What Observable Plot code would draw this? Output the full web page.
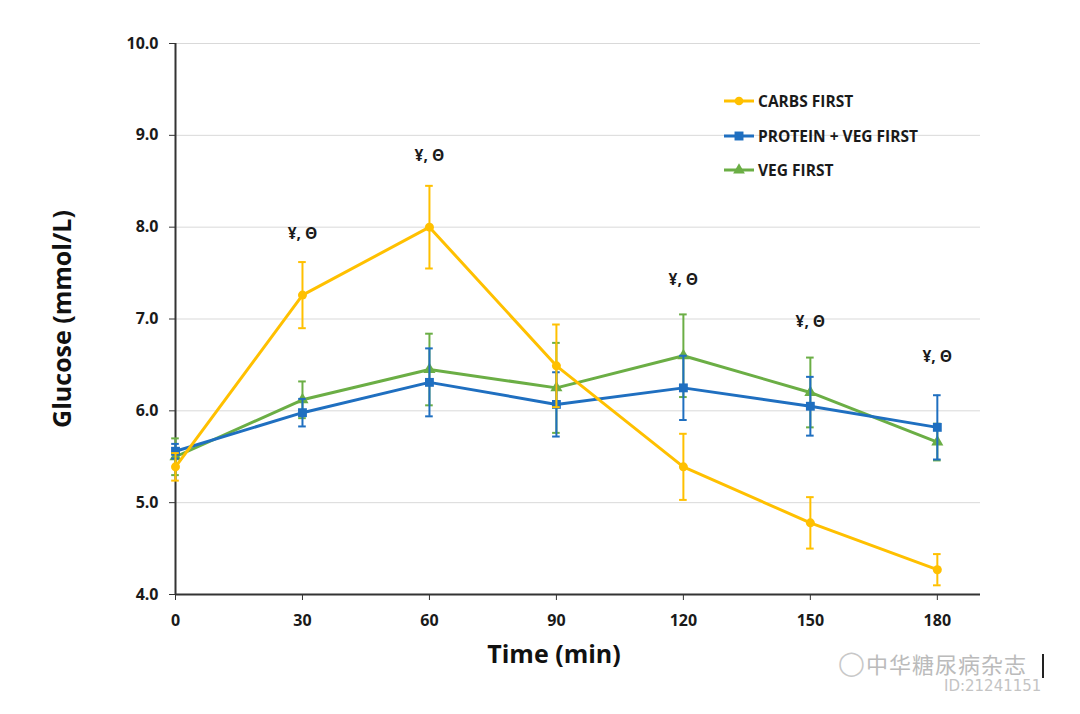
<!DOCTYPE html>
<html><head><meta charset="utf-8">
<script src="https://cdn.jsdelivr.net/npm/d3@7"></script>
<script src="https://cdn.jsdelivr.net/npm/@observablehq/plot@0.6"></script>
<style>
body{margin:0;background:#fff;font-family:"Open Sans",sans-serif;}
#wrap{position:relative;width:1080px;height:714px;}
#legend{position:absolute;left:723px;top:84px;font-weight:700;font-size:15.5px;color:#1a1a1a;}
#legend .row{display:flex;align-items:center;height:34.5px;}
#legend svg{margin-right:3px;}
#wm div{position:absolute;line-height:1;white-space:nowrap;}
</style></head>
<body><div id="wrap"><div id="chart"></div>
<div id="legend"></div>
<div id="wm">
  <div style="left:838px;top:651px;font-size:24px;color:#c8c8c8;font-family:'DejaVu Sans'">&#9711;</div>
  <div style="left:866px;top:652px;font-size:22px;letter-spacing:1px;color:#bbb;font-family:'Noto Sans CJK SC'">中华糖尿病杂志</div>
  <div style="left:1042px;top:654px;width:2px;height:24px;background:#222"></div>
  <div style="left:944px;top:679px;font-size:15px;color:#c4c4c4;font-family:'DejaVu Sans'">ID:21241151</div>
</div>
</div>
<script>
const times = [0, 30, 60, 90, 120, 150, 180];
const seriesNames = ["CARBS FIRST", "PROTEIN + VEG FIRST", "VEG FIRST"];
const carbsMean = [5.39, 7.26, 8.00, 6.49, 5.39, 4.78, 4.27];
const carbsErr  = [0.15, 0.36, 0.45, 0.45, 0.36, 0.28, 0.17];
const protMean  = [5.56, 5.98, 6.31, 6.07, 6.25, 6.05, 5.82];
const protErr   = [0.08, 0.15, 0.37, 0.35, 0.35, 0.32, 0.35];
const vegMean   = [5.50, 6.12, 6.45, 6.25, 6.60, 6.20, 5.66];
const vegErr    = [0.20, 0.20, 0.39, 0.49, 0.45, 0.38, 0.20];
const yTicks = [4, 5, 6, 7, 8, 9, 10];
const xTicks = [0, 30, 60, 90, 120, 150, 180];
const annotTimes = [30, 60, 120, 150, 180];
const annotY = [7.93, 8.77, 7.42, 6.97, 6.59];
const annotText = "¥, Θ";

const colors = {"CARBS FIRST": "#FFC000", "PROTEIN + VEG FIRST": "#1F6FC0", "VEG FIRST": "#6BAE45"};
const symbols = {"CARBS FIRST": "circle", "PROTEIN + VEG FIRST": "square", "VEG FIRST": "triangle"};
const sizes = {"CARBS FIRST": 4.5, "PROTEIN + VEG FIRST": 5, "VEG FIRST": 4.5};

const means = [carbsMean, protMean, vegMean];
const errs = [carbsErr, protErr, vegErr];
const data = [];
seriesNames.forEach((s, i) => times.forEach((t, j) => data.push({s, t, y: means[i][j], e: errs[i][j]})));
const annots = annotTimes.map((t, i) => ({t, y: annotY[i]}));
const drawOrder = ["VEG FIRST", "PROTEIN + VEG FIRST", "CARBS FIRST"];

const marks = [
  Plot.gridY(yTicks, {stroke: "#d9d9d9", strokeOpacity: 1, strokeWidth: 1}),
  Plot.axisY(yTicks, {tickFormat: d => d.toFixed(1), tickSize: 6, tickPadding: 11, fontSize: 16, fill: "#1a1a1a", stroke: "#333", label: null}),
  Plot.axisX(xTicks, {tickSize: 6, tickPadding: 14, fontSize: 16, fill: "#1a1a1a", stroke: "#333", label: null}),
  Plot.ruleY([4], {stroke: "#333", strokeWidth: 2}),
  Plot.ruleX([0], {stroke: "#333", strokeWidth: 2}),
];
for (const s of drawOrder) {
  const d = data.filter(r => r.s === s);
  const c = colors[s];
  marks.push(
    Plot.ruleX(d, {x: "t", y1: r => r.y - r.e, y2: r => r.y + r.e, stroke: c, strokeWidth: 2}),
    Plot.ruleY(d, {y: r => r.y - r.e, x1: r => r.t - 0.9, x2: r => r.t + 0.9, stroke: c, strokeWidth: 2}),
    Plot.ruleY(d, {y: r => r.y + r.e, x1: r => r.t - 0.9, x2: r => r.t + 0.9, stroke: c, strokeWidth: 2}),
    Plot.line(d, {x: "t", y: "y", stroke: c, strokeWidth: 3}),
    Plot.dot(d, {x: "t", y: "y", fill: c, symbol: () => symbols[s], r: sizes[s], stroke: "none"})
  );
}
marks.push(
  Plot.text(annots, {x: "t", y: "y", text: () => annotText, fontSize: 15.5, fontWeight: 700, fill: "#1a1a1a"}),
  Plot.text(["Glucose (mmol/L)"], {frameAnchor: "left", textAnchor: "middle", dx: -113, rotate: -90, fontSize: 25, fontWeight: 700, fill: "#111"}),
  Plot.text(["Time (min)"], {frameAnchor: "bottom", textAnchor: "middle", dx: -24, dy: 68, fontSize: 25, fontWeight: 700, fill: "#111"})
);

const chart = Plot.plot({
  width: 1080, height: 714,
  marginLeft: 175, marginRight: 100, marginTop: 43, marginBottom: 120,
  x: {domain: [0, 190.2]},
  y: {domain: [4, 10]},
  style: {fontFamily: "'Open Sans', sans-serif", fontWeight: 700, background: "#fff"},
  marks
});
document.getElementById("chart").appendChild(chart);

const lg = document.getElementById("legend");
for (const s of seriesNames) {
  const c = colors[s];
  const sym = d3.symbol(s === "CARBS FIRST" ? d3.symbolCircle : s === "VEG FIRST" ? d3.symbolTriangle : d3.symbolSquare, s === "PROTEIN + VEG FIRST" ? 80 : 60)();
  lg.insertAdjacentHTML("beforeend",
    `<div class="row"><svg width="32" height="14"><line x1="1" x2="31" y1="7" y2="7" stroke="${c}" stroke-width="3"/><path d="${sym}" transform="translate(16,7)" fill="${c}"/></svg><span>${s}</span></div>`);
}
</script></body></html>
